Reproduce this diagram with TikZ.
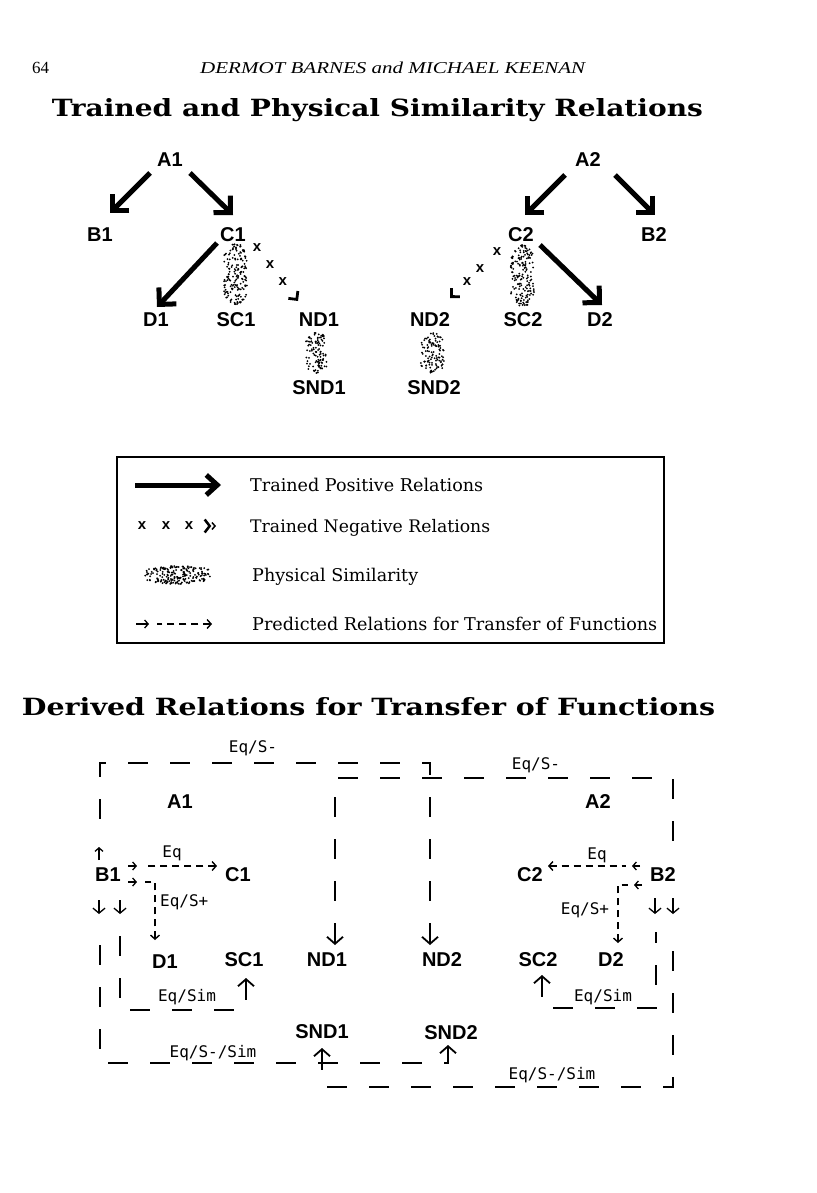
\documentclass[tikz,border=0pt]{standalone}
\usepackage{fontspec}
\setmainfont{Liberation Serif}
\newfontfamily\labfont{Liberation Sans}
\newfontfamily\relfont{DejaVu Sans Mono}
\newfontfamily\titlefont{DejaVu Serif}
\usetikzlibrary{arrows.meta}

\newcommand\dotblob[6]{%
  \foreach \i in {1,...,#5}{%
    \pgfmathsetmacro\vv{rand}%
    \pgfmathsetmacro\uu{rand}%
    \pgfmathsetmacro\ff{(1-#6+#6*abs(sin(\vv*180)))*sqrt(1-(\vv)*(\vv)*(\vv)*(\vv))}%
    \fill ({#1+#3*(\uu)*\ff},{#2+#4*(\vv)}) circle (1pt);%
  }}

\tikzset{
  lab/.style={font=\labfont\bfseries\fontsize{20}{20}\selectfont, inner sep=0pt},
  rel/.style={font=\relfont\fontsize{16}{16}\selectfont, inner sep=0pt},
  xmark/.style={font=\labfont\bfseries\fontsize{15}{15}\selectfont, inner sep=0pt},
  legtext/.style={font=\titlefont\fontsize{16}{16}\selectfont, inner sep=0pt, anchor=base west},
  posarrow/.style={line width=5pt, -{Straight Barb[length=12pt,width=24pt,sharp]}},
  negrel/.style={line width=2.8pt, dash pattern=on 0pt off 2000pt, -{Straight Barb[length=6pt,width=12pt,sharp]}},
  bigdashr/.style={line width=1.8pt, dash pattern=on 20pt off 22pt, {Straight Barb[length=7pt,width=16pt]}-},
  smalldashr/.style={line width=1.4pt, dash pattern=on 7pt off 5pt, {Straight Barb[length=4pt,width=9pt]}-},
  tiny/.style={line width=1.3pt, -{Straight Barb[length=3.5pt,width=8pt]}},
  tinyv/.style={line width=1.3pt, -{Straight Barb[length=5pt,width=12pt]}},
}

\begin{document}
\begin{tikzpicture}[x=1pt,y=-1pt]
\fill[white] (0,0) rectangle (816,1193);
\useasboundingbox (0,0) rectangle (816,1193);
\pgfmathsetseed{7}

% header
\node[anchor=base west, inner sep=0pt, font=\fontsize{17}{17}\selectfont] (pg) at (32,74) {64};
\node[anchor=base west, inner sep=0pt] (hd) at (200,74) {\resizebox{385pt}{11.5pt}{\itshape DERMOT BARNES and MICHAEL KEENAN}};
\node[anchor=base, inner sep=0pt] (t1) at (377.5,117) {\resizebox{651pt}{18pt}{\titlefont\bfseries Trained and Physical Similarity Relations}};

% ---------- top tree ----------
\node[lab] (tA1) at (170,160) {A1};
\node[lab] (tB1) at (100,235) {B1};
\node[lab] (tC1) at (233,235) {C1};
\node[lab] (tD1) at (156,320) {D1};
\node[lab] (tSC1) at (236,320) {SC1};
\node[lab] (tND1) at (319,320) {ND1};
\node[lab] (tSND1) at (319,388) {SND1};
\node[lab] (tA2) at (588,160) {A2};
\node[lab] (tC2) at (521,235) {C2};
\node[lab] (tB2) at (654,235) {B2};
\node[lab] (tND2) at (430,320) {ND2};
\node[lab] (tSC2) at (523,320) {SC2};
\node[lab] (tD2) at (600,320) {D2};
\node[lab] (tSND2) at (434,388) {SND2};

\draw[posarrow] ([shift={(-20,13)}]tA1.center) -- ([shift={(10,-22)}]tB1.center);
\draw[posarrow] ([shift={(20,13)}]tA1.center) -- ([shift={(0,-20)}]tC1.center);
\draw[posarrow] ([shift={(-16,8)}]tC1.center) -- ([shift={(1,-13)}]tD1.center);
\draw[posarrow] ([shift={(-23,15)}]tA2.center) -- ([shift={(4,-20)}]tC2.center);
\draw[posarrow] ([shift={(27,15)}]tA2.center) -- ([shift={(1,-20)}]tB2.center);
\draw[posarrow] ([shift={(19,10)}]tC2.center) -- ([shift={(2,-15)}]tD2.center);

\draw[negrel] ([shift={(24,13)}]tC1.center) -- ([shift={(-21,-19)}]tND1.center)
  node[xmark,pos=0]{x} node[xmark,pos=0.32]{x} node[xmark,pos=0.63]{x};
\draw[negrel] ([shift={(-24,17)}]tC2.center) -- ([shift={(20,-22)}]tND2.center)
  node[xmark,pos=0]{x} node[xmark,pos=0.36]{x} node[xmark,pos=0.64]{x};

\dotblob{235.5}{274}{12.5}{31}{170}{0.25}
\dotblob{316.5}{352.5}{11.5}{20.5}{110}{0.15}
\dotblob{522.5}{276}{12.5}{31}{170}{0.25}
\dotblob{432.5}{353}{12.5}{20}{110}{0.15}

% ---------- legend ----------
\node[draw, line width=1.8pt, minimum width=547pt, minimum height=186pt, inner sep=0pt] (legend) at (390.5,550) {};
\coordinate (l1a) at (135,485); \coordinate (l1b) at (221,485);
\draw[line width=5pt, -{Straight Barb[length=11pt,width=20pt,sharp]}] (l1a) -- (l1b);
\node[legtext] (lt1) at (250,491) {\resizebox{233pt}{!}{Trained Positive Relations}};
\node[xmark] (lx1) at (142,526) {x};
\node[xmark] (lx2) at (166,526) {x};
\node[xmark] (lx3) at (189,526) {x};
\coordinate (l2a) at (196,526); \coordinate (l2b) at (216,526);
\draw[line width=2.5pt, dash pattern=on 0pt off 2000pt, -{Straight Barb[length=5pt,width=13pt,sharp]Straight Barb[length=3pt,width=7pt,line width=1.5pt]}] (l2a) -- (l2b);
\node[legtext] (lt2) at (250,532) {\resizebox{240pt}{!}{Trained Negative Relations}};
\dotblob{178}{575}{33}{9}{200}{0}
\node[legtext] (lt3) at (252,581) {\resizebox{166pt}{!}{Physical Similarity}};
\coordinate (l4a) at (136,624); \coordinate (l4b) at (149,624);
\coordinate (l4c) at (157,624); \coordinate (l4d) at (212,624);
\draw[tiny] (l4a) -- (l4b);
\draw[smalldashr] (l4d) -- (l4c);
\node[legtext] (lt4) at (252,630) {\resizebox{405pt}{!}{Predicted Relations for Transfer of Functions}};

% ---------- bottom ----------
\node[anchor=base, inner sep=0pt] (t2) at (368.5,715) {\resizebox{693pt}{18pt}{\titlefont\bfseries Derived Relations for Transfer of Functions}};

\node[lab] (A1) at (180,802) {A1};
\node[lab] (B1) at (108,875) {B1};
\node[lab] (C1) at (238,875) {C1};
\node[lab] (D1) at (165,962) {D1};
\node[lab] (SC1) at (244,960) {SC1};
\node[lab] (ND1) at (327,960) {ND1};
\node[lab] (ND2) at (442,960) {ND2};
\node[lab] (SC2) at (538,960) {SC2};
\node[lab] (D2) at (611,960) {D2};
\node[lab] (C2) at (530,875) {C2};
\node[lab] (B2) at (663,875) {B2};
\node[lab] (A2) at (598,802) {A2};
\node[lab] (SND1) at (322,1032) {SND1};
\node[lab] (SND2) at (451,1033) {SND2};

% Eq/S- : B1 -> ND2
\draw[tiny] ([shift={(-9,-15)}]B1.center) -- ([shift={(-9,-28)}]B1.center);
\draw[bigdashr] ([shift={(-12,-15)}]ND2.center) |- ([shift={(-8,-112)}]B1.center) -- ([shift={(-8,-37)}]B1.center);
% Eq/S- : B2 -> ND1
\draw[bigdashr] ([shift={(8,-15)}]ND1.center) |- ([shift={(10,-97)}]B2.center) -- ([shift={(10,-15)}]B2.center);
\node[rel] (ls1) at (253,748) {Eq/S-};
\node[rel] (ls2) at (536,765) {Eq/S-};

% Eq : B1 -> C1
\draw[tiny] ([shift={(20,-9)}]B1.center) -- ([shift={(29,-9)}]B1.center);
\draw[smalldashr] ([shift={(-21,-9)}]C1.center) -- ([shift={(37,-9)}]B1.center);
\node[rel] (le1) at (172,853) {Eq};
% Eq/S+ : B1 -> D1
\draw[tiny] ([shift={(20,7)}]B1.center) -- ([shift={(29,7)}]B1.center);
\draw[smalldashr] ([shift={(-10,-22)}]D1.center) |- ([shift={(37,7)}]B1.center);
\node[rel, anchor=west] (lp1) at (160,902) {Eq/S+};
% Eq/Sim : B1 -> SC1
\draw[tinyv] ([shift={(12,25)}]B1.center) -- ([shift={(12,39)}]B1.center);
\draw[bigdashr] ([shift={(2,18)}]SC1.center) |- ([shift={(12,135)}]B1.center) -- ([shift={(12,55)}]B1.center);
\node[rel] (lm1) at (187,997) {Eq/Sim};
% Eq/S-/Sim : B1 -> SND2
\draw[tinyv] ([shift={(-9,25)}]B1.center) -- ([shift={(-9,39)}]B1.center);
\draw[bigdashr] ([shift={(-3,12)}]SND2.center) |- ([shift={(-8,188)}]B1.center) -- ([shift={(-8,55)}]B1.center);
\node[rel] (lx1b) at (213,1053) {Eq/S-/Sim};

% Eq : B2 -> C2
\draw[tiny] ([shift={(-23,-9)}]B2.center) -- ([shift={(-31,-9)}]B2.center);
\draw[smalldashr] ([shift={(18,-9)}]C2.center) -- ([shift={(-37,-9)}]B2.center);
\node[rel] (le2) at (597,855) {Eq};
% Eq/S+ : B2 -> D2
\draw[tiny] ([shift={(-21,10)}]B2.center) -- ([shift={(-29,10)}]B2.center);
\draw[smalldashr] ([shift={(7,-17)}]D2.center) |- ([shift={(-35,10)}]B2.center);
\node[rel] (lp2) at (585,910) {Eq/S+};
% Eq/Sim : B2 -> SC2
\draw[tinyv] ([shift={(-8,23)}]B2.center) -- ([shift={(-8,39)}]B2.center);
\draw[bigdashr] ([shift={(4,15)}]SC2.center) |- ([shift={(-7,133)}]B2.center) -- ([shift={(-7,57)}]B2.center);
\node[rel] (lm2) at (603,997) {Eq/Sim};
% Eq/S-/Sim : B2 -> SND1
\draw[tinyv] ([shift={(10,23)}]B2.center) -- ([shift={(10,39)}]B2.center);
\draw[bigdashr] ([shift={(0,16)}]SND1.center) |- ([shift={(10,212)}]B2.center) -- ([shift={(10,57)}]B2.center);
\node[rel] (lx2b) at (552,1075) {Eq/S-/Sim};
\end{tikzpicture}
\end{document}
